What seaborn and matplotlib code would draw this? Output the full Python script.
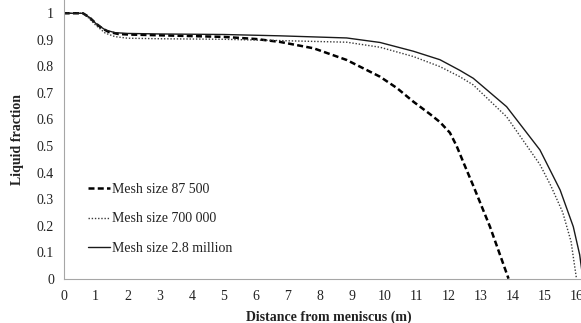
import numpy as np
import pandas as pd
import matplotlib
matplotlib.use("Agg")
import matplotlib.pyplot as plt
import seaborn as sns

# Liquid fraction along the channel for three mesh resolutions
dist_87k = [0, 0.6, 0.8, 1.0, 1.2, 1.4, 1.7, 2, 3, 4, 5, 6, 6.75, 7.8, 8.83, 9.87,
            10.4, 10.91, 11.43, 11.74, 12.05, 12.26, 12.5, 12.78, 13.3, 13.88]
frac_87k = [1, 1, 0.985, 0.962, 0.943, 0.93, 0.922, 0.92, 0.917, 0.914, 0.911, 0.903, 0.892, 0.868, 0.824, 0.761,
            0.718, 0.667, 0.62, 0.59, 0.55, 0.5, 0.43, 0.35, 0.196, 0.0]

dist_700k = [0, 0.6, 0.8, 1.0, 1.3, 1.6, 2, 3, 5, 6.75, 8.83, 9.87, 10.91, 11.74, 12.36, 12.78,
             13.82, 14.86, 15.2, 15.57, 15.83, 16.0]
frac_700k = [1, 1, 0.98, 0.955, 0.925, 0.912, 0.906, 0.904, 0.902, 0.897, 0.891, 0.872, 0.837, 0.799, 0.761, 0.73,
             0.61, 0.43, 0.35, 0.25, 0.14, 0.0]

dist_2m8 = [0, 0.6, 0.8, 1.0, 1.3, 1.6, 2, 3, 5, 6.75, 8.83, 9.87, 10.91, 11.74, 12.36, 12.78,
            13.82, 14.86, 15.49, 15.9, 16.1, 16.2]
frac_2m8 = [1, 1, 0.985, 0.962, 0.937, 0.927, 0.924, 0.922, 0.92, 0.915, 0.907, 0.89, 0.857, 0.825, 0.785, 0.755,
            0.648, 0.485, 0.334, 0.196, 0.09, 0.0]

series_labels = ["Mesh size 87 500", "Mesh size 700 000", "Mesh size 2.8 million"]
x_ticks = list(range(0, 17))
y_ticks = [0, 0.1, 0.2, 0.3, 0.4, 0.5, 0.6, 0.7, 0.8, 0.9, 1]
y_tick_labels = ["0", "0.1", "0.2", "0.3", "0.4", "0.5", "0.6", "0.7", "0.8", "0.9", "1"]

sns.set_theme(style="white")
plt.rcParams["font.family"] = ["Liberation Serif", "DejaVu Serif"]

fig = plt.figure(figsize=(5.81, 3.23), dpi=100)
ax = fig.add_axes([0.1096, 0.1372, 0.9378, 0.8628])

frames = {
    series_labels[0]: pd.DataFrame({"distance": dist_87k, "fraction": frac_87k}),
    series_labels[1]: pd.DataFrame({"distance": dist_700k, "fraction": frac_700k}),
    series_labels[2]: pd.DataFrame({"distance": dist_2m8, "fraction": frac_2m8}),
}
styles = {
    series_labels[0]: dict(color="black", linewidth=1.8, dashes=(2.4, 1.3)),
    series_labels[1]: dict(color="#3a3a3a", linewidth=1.0, dashes=(1.0, 1.3)),
    series_labels[2]: dict(color="#1a1a1a", linewidth=1.0),
}

for label, df in frames.items():
    st = styles[label]
    sns.lineplot(data=df, x="distance", y="fraction", ax=ax, label=label,
                 estimator=None, color=st["color"], linewidth=st["linewidth"])
    line = ax.lines[-1]
    line.set_solid_joinstyle("round")
    line.set_dash_joinstyle("round")
    if "dashes" in st:
        line.set_dashes(st["dashes"])

ax.set_xlim(0, 17)
ax.set_ylim(0, 1.05)
ax.set_xticks(x_ticks)
ax.set_xticklabels([str(t) for t in x_ticks])
ax.set_yticks(y_ticks)
ax.set_yticklabels(y_tick_labels)

for side in ["top", "right"]:
    ax.spines[side].set_visible(False)
for side in ["left", "bottom"]:
    ax.spines[side].set_color("#a6a6a6")
    ax.spines[side].set_linewidth(0.8)

ax.tick_params(axis="both", which="major", direction="out", length=3,
               width=0.8, color="#a6a6a6", labelsize=10, labelcolor="#222222")
ax.tick_params(axis="y", pad=4)
ax.tick_params(axis="x", pad=5)

ax.set_xlabel("Distance from meniscus (m)", fontsize=10, fontweight="bold", color="#222222")
ax.set_ylabel("Liquid fraction", fontsize=10, fontweight="bold", color="#222222")
ax.xaxis.set_label_coords(0.487, -0.115)
ax.yaxis.set_label_coords(-0.073, 0.5)

ax.get_legend().remove()
handles, labels = ax.get_legend_handles_labels()
fig.legend(handles, labels, loc="center left", bbox_to_anchor=(0.1515, 0.322),
           frameon=False, fontsize=10, handlelength=1.6, handletextpad=0.1,
           labelspacing=1.2, borderpad=0, borderaxespad=0, labelcolor="#222222")

fig.savefig("out.png", dpi=100)
